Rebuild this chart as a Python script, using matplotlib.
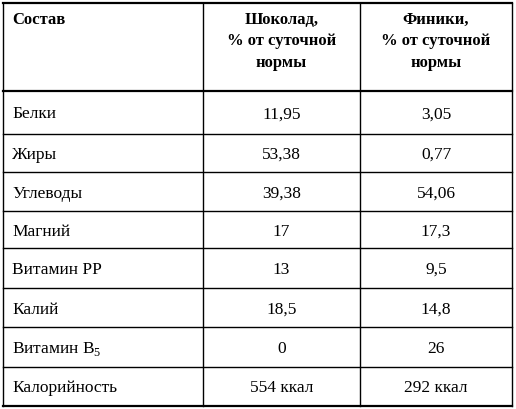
import matplotlib
matplotlib.use("Agg")
import matplotlib.pyplot as plt

plt.rcParams['font.family'] = ['Liberation Serif', 'DejaVu Serif']
plt.rcParams['mathtext.fontset'] = 'custom'
plt.rcParams['mathtext.rm'] = 'Liberation Serif'

headers = ["Состав", "Шоколад,\n% от суточной\nнормы", "Финики,\n% от суточной\nнормы"]
items = ["Белки", "Жиры", "Углеводы", "Магний", "Витамин PP", "Калий",
         "Витамин B$_5$", "Калорийность"]
chocolate = ["11,95", "53,38", "39,38", "17", "13", "18,5", "0", "554 ккал"]
dates = ["3,05", "0,77", "54,06", "17,3", "9,5", "14,8", "26", "292 ккал"]

# layout in pixels
col_x = [3, 203, 360, 512]
row_y = [3, 91, 134, 172, 211, 248, 288, 327, 367, 406]

fig = plt.figure(figsize=(5.16, 4.09), dpi=100)
ax = fig.add_axes([0, 0, 1, 1])
ax.set_xlim(0, 516)
ax.set_ylim(409, 0)
ax.axis("off")

for x in col_x:
    ax.plot([x, x], [row_y[0], row_y[-1]], color="black", lw=1.0)
for i, y in enumerate(row_y):
    ax.plot([col_x[0], col_x[-1]], [y, y], color="black",
            lw=1.6 if i in (0, 1, len(row_y) - 1) else 1.0)

# header
ax.text(12, 12, headers[0], ha="left", va="top", fontsize=12, fontweight="bold")
for j in (1, 2):
    cx = (col_x[j] + col_x[j + 1]) / 2
    ax.text(cx, 12, headers[j], ha="center", va="top", fontsize=12,
            fontweight="bold", linespacing=1.45)

for i, (name, c, d) in enumerate(zip(items, chocolate, dates)):
    cy = (row_y[i + 1] + row_y[i + 2]) / 2 + 2
    ax.text(12, cy, name, ha="left", va="center", fontsize=12.5)
    ax.text((col_x[1] + col_x[2]) / 2, cy, c, ha="center", va="center", fontsize=12.5)
    ax.text((col_x[2] + col_x[3]) / 2, cy, d, ha="center", va="center", fontsize=12.5)

fig.savefig("out.png", dpi=100)
